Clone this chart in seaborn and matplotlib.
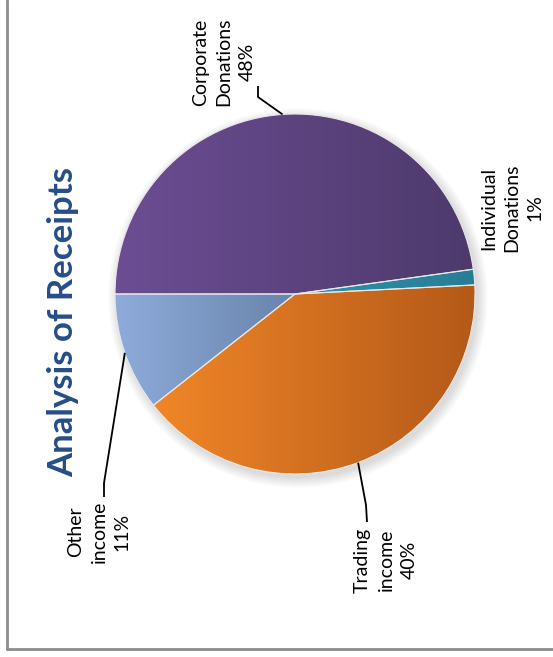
import numpy as np
import matplotlib
matplotlib.use('Agg')
import matplotlib.pyplot as plt
import seaborn as sns
from matplotlib.patches import Circle

# data
labels = ['Corporate\nDonations\n48%', 'Individual\nDonations\n1%',
          'Trading\nincome\n40%', 'Other\nincome\n11%']
shares = [47.8, 1.4, 40.2, 10.6]
left_colors = ['#6c4d94', '#2f91ad', '#f08628', '#8eabdb']
right_colors = ['#4d3a6b', '#287d95', '#b45918', '#6884ab']

sns.set_style('white')
plt.rcParams['font.family'] = ['Lato', 'DejaVu Sans']

W, H = 553, 657
fig = plt.figure(figsize=(W / 100, H / 100), dpi=100)
ax = fig.add_axes([0, 0, 1, 1])

cx, cy, r = 295, H - 294, 180

# soft shadow
for i in range(12):
    ax.add_patch(Circle((cx + 3, cy - 4), r + i * 0.9, color='black',
                        alpha=0.010, lw=0, zorder=1))

wedges, _ = ax.pie(shares, startangle=180, counterclock=False,
                   center=(cx, cy), radius=r, explode=[0, 0, 0, 0.025],
                   wedgeprops={'edgecolor': '#e8e8e8', 'linewidth': 0.8},
                   frame=True)
ax.set_xlim(0, W)
ax.set_ylim(0, H)
ax.set_aspect('equal')
ax.axis('off')

# horizontal gradient fill clipped to each wedge
grad = np.linspace(0, 1, 256).reshape(1, -1)
for w, c1, c2 in zip(wedges, left_colors, right_colors):
    w.set_zorder(2)
    w.set_facecolor('none')
    bb = w.get_path().get_extents()
    cmap = sns.blend_palette([c1, c2], n_colors=256, as_cmap=True)
    im = ax.imshow(grad, cmap=cmap, aspect='auto', zorder=1.5,
                   extent=[bb.x0, bb.x1, bb.y0, bb.y1])
    im.set_clip_path(w)

# labels and leader lines
label_pos = [(224, H - 62), (512, H - 208), (386, H - 560), (99, H - 532)]
elbows = [[(258, H - 86), (258, H - 97)], None,
          [(367, H - 522), (366, H - 505)],
          [(104, H - 497), (104, H - 483)]]
for w, lab, pos, elb in zip(wedges, labels, label_pos, elbows):
    ax.text(pos[0], pos[1], lab, rotation=90, ha='center', va='center',
            multialignment='center', fontsize=14, color='black',
            linespacing=1.45, zorder=5)
    if elb is None:
        continue
    mid = np.deg2rad((w.theta1 + w.theta2) / 2)
    ex = w.center[0] + w.r * np.cos(mid)
    ey = w.center[1] + w.r * np.sin(mid)
    xs = [elb[0][0], elb[1][0], ex]
    ys = [elb[0][1], elb[1][1], ey]
    ax.plot(xs, ys, color='black', lw=1.3, zorder=4,
            solid_capstyle='butt')

ax.text(63, H - 322, 'Analysis of Receipts', rotation=90, ha='center',
        va='center', fontsize=25, fontweight='bold', color='#254d87')

# chart frame (left and bottom edges visible)
ax.plot([7, 7], [H, H - 649], color='#8c8c8c', lw=2.0, zorder=6)
ax.plot([7, W], [H - 649, H - 649], color='#8c8c8c', lw=2.0, zorder=6)

fig.savefig('out.png', dpi=100)
